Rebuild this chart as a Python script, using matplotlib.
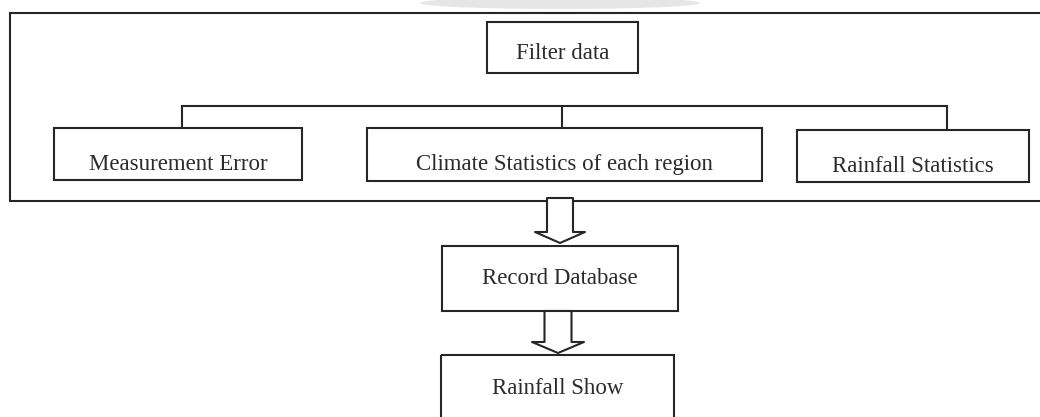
import matplotlib.pyplot as plt
from matplotlib.patches import Rectangle, Polygon, Ellipse

plt.rcParams["font.family"] = ["Liberation Serif", "DejaVu Serif"]

# box labels
top_label = "Filter data"
branch_labels = ["Measurement Error", "Climate Statistics of each region", "Rainfall Statistics"]
flow_labels = ["Record Database", "Rainfall Show"]

line_col = "#262626"
text_col = "#2b2b2b"
lw = 1.5

fig = plt.figure(figsize=(10.4, 4.17), dpi=100)
ax = fig.add_axes([0, 0, 1, 1])
ax.set_xlim(0, 1040)
ax.set_ylim(417, 0)
ax.axis("off")


def box(x0, y0, x1, y1, label, ty):
    ax.add_patch(Rectangle((x0, y0), x1 - x0, y1 - y0, fill=False,
                           ec=line_col, lw=lw, zorder=2))
    ax.text((x0 + x1) / 2, ty, label, ha="center", va="center",
            fontsize=16.5, color=text_col, zorder=4)


def hollow_arrow(cx, top, head_y, tip_y, stem_w, head_w):
    pts = [(cx - stem_w / 2, top), (cx + stem_w / 2, top),
           (cx + stem_w / 2, head_y), (cx + head_w / 2, head_y),
           (cx, tip_y), (cx - head_w / 2, head_y),
           (cx - stem_w / 2, head_y)]
    ax.add_patch(Polygon(pts, closed=True, fc="white", ec=line_col,
                         lw=lw, joinstyle="round", zorder=3))


# faint scan shadow at the top
ax.add_patch(Ellipse((560, 3), 280, 12, fc="#e6e6e6", ec="none", zorder=0))

# outer frame (runs off the right edge)
ax.plot([1045, 10, 10, 1045], [13, 13, 201, 201], color=line_col, lw=lw,
        zorder=2, solid_joinstyle="miter")

box(487, 22, 638, 73, top_label, 53)

# connector
ax.plot([182, 947], [106, 106], color=line_col, lw=lw, zorder=2)
branch_boxes = [(54, 128, 302, 180), (367, 128, 762, 181), (797, 130, 1029, 182)]
drops = [182, 562, 947]
text_y = [164, 164, 166]
for (x0, y0, x1, y1), dx, lab, ty in zip(branch_boxes, drops, branch_labels, text_y):
    ax.plot([dx, dx], [106, y0], color=line_col, lw=lw, zorder=2)
    box(x0, y0, x1, y1, lab, ty)

hollow_arrow(560, 198, 232, 243, 26, 50)
box(442, 246, 678, 311, flow_labels[0], 279)
hollow_arrow(558, 311, 342, 353, 27, 52)
box(441, 355, 674, 430, flow_labels[1], 389)

fig.savefig("out.png", dpi=100)
